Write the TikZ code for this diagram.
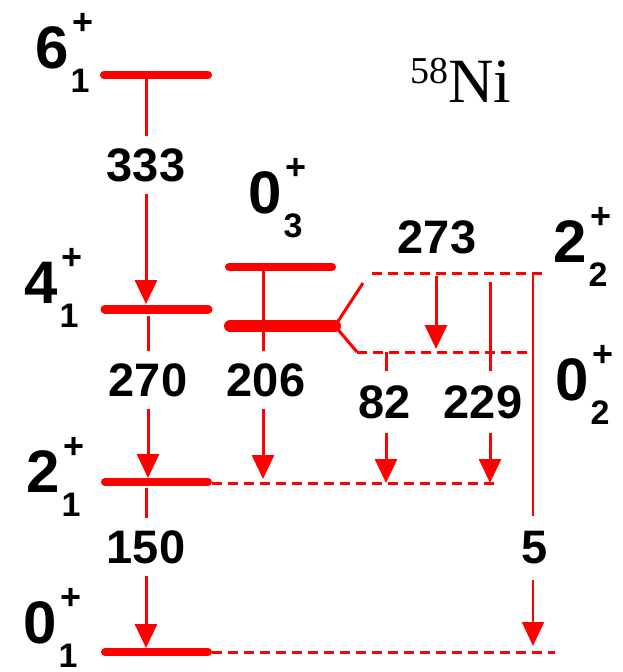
\documentclass[tikz,border=0pt]{standalone}
\usepackage{fontspec}
\setmainfont{Liberation Sans}
\newfontfamily\nuclidefont{Liberation Serif}
\usetikzlibrary{arrows.meta}

% spin-parity label: big digit, "+" above right, level index below right
\newcommand\spinlabel[2]{\fontsize{60}{60}\selectfont\bfseries #1%
  \rlap{\kern4pt\raisebox{34pt}{\fontsize{36}{36}\selectfont +}}%
  \rlap{\kern2pt\raisebox{-24pt}{\fontsize{34}{34}\selectfont #2}}}

\begin{document}
\begin{tikzpicture}[x=1pt,y=-1pt,
  level/.style={draw=red, line width=8pt, line cap=round},
  trans/.style={draw=red, line width=3pt},
  gam/.style={-{Triangle[width=22pt,length=24pt]}},
  dashlvl/.style={draw=red, line width=3pt, dash pattern=on 10pt off 6pt},
  elabel/.style={font=\fontsize{47}{47}\selectfont\bfseries, inner xsep=2pt, inner ysep=12pt},
  spin/.style={anchor=base west, inner sep=0pt}]
\useasboundingbox (0,0) rectangle (623,672);

% ---- level end points ----
\coordinate (L6a) at (104,75);   \coordinate (L6b) at (208,75);
\coordinate (L4a) at (105,309);  \coordinate (L4b) at (208,309);
\coordinate (L3a) at (229,267);  \coordinate (L3b) at (332,267);
\coordinate (Lfa) at (230,326);  \coordinate (Lfb) at (335,326);
\coordinate (L2a) at (105,482);  \coordinate (L2b) at (208,482);
\coordinate (L0a) at (105,652);  \coordinate (L0b) at (208,652);
\coordinate (Fu) at (363,283);   \coordinate (Fd) at (357,352);
\coordinate (D22a) at (372,273); \coordinate (D22b) at (545,273);
\coordinate (D02a) at (357,352); \coordinate (D02b) at (530,352);
\coordinate (D21b) at (495,483);
\coordinate (D01b) at (555,652);

% ---- levels ----
\draw[level] (L6a) -- (L6b);
\draw[level, line width=9pt] (L4a) -- (L4b);
\draw[level] (L3a) -- (L3b);
\draw[level, line width=12pt] (Lfa) -- (Lfb);
\draw[level] (L2a) -- (L2b);
\draw[level] (L0a) -- (L0b);
\draw[trans] (Fu) -- (Lfb) -- (Fd);
\draw[dashlvl] (D22a) -- (D22b);
\draw[dashlvl] (D02a) -- (D02b);
\draw[dashlvl] (L2b) ++(4,1) coordinate (D21a) (D21a) -- (D21b);
\draw[dashlvl] (L0b) ++(4,0) coordinate (D01a) (D01a) -- (D01b);

% ---- spin labels ----
\node[spin] (s61) at (35,68)   {\spinlabel{6}{1}};
\node[spin] (s41) at (24,303)  {\spinlabel{4}{1}};
\node[spin] (s21) at (26,492)  {\spinlabel{2}{1}};
\node[spin] (s01) at (23,643)  {\spinlabel{0}{1}};
\node[spin] (s03) at (248,213) {\spinlabel{0}{3}};
\node[spin] (s22) at (553,262) {\spinlabel{2}{2}};
\node[spin] (s02) at (555,400) {\spinlabel{0}{2}};

% ---- nucleus ----
\node[anchor=base west, inner sep=0pt, font=\nuclidefont\fontsize{63}{63}\selectfont] (nuc) at (410,102)
  {\raisebox{19pt}{\fontsize{38}{38}\selectfont 58}Ni};

% ---- transition start / end points ----
\coordinate (g333a) at (146,75);  \coordinate (g333b) at (146,304);
\coordinate (g270a) at (148,316); \coordinate (g270b) at (148,478);
\coordinate (g206a) at (263,267); \coordinate (g206b) at (263,479);
\coordinate (g82a)  at (386,352); \coordinate (g82b)  at (386,483);
\coordinate (g229a) at (490,282); \coordinate (g229b) at (490,483);
\coordinate (g273a) at (436,276); \coordinate (g273b) at (436,349);
\coordinate (g150a) at (146,488); \coordinate (g150b) at (146,648);
\coordinate (g5a)   at (533,273); \coordinate (g5b)   at (533,646);

% ---- energy labels ----
\node[elabel] (t333) at (146,165) {333};
\node[elabel] (t270) at (148,380) {270};
\node[elabel] (t206) at (266,380) {206};
\node[elabel, inner ysep=14pt] (t82)  at (385,402) {82};
\node[elabel, inner ysep=14pt] (t229) at (483,402) {229};
\node[elabel] (t273) at (437,237) {273};
\node[elabel] (t150) at (146,547) {150};
\node[elabel, inner ysep=15pt] (t5) at (535,548) {5};

% ---- gamma transitions ----
\draw[trans] (g333a) -- (g333a |- t333.north);
\draw[trans, gam] (g333a |- t333.south) -- (g333b);
\draw[trans] (g270a) -- (g270a |- t270.north);
\draw[trans, gam] (g270a |- t270.south) -- (g270b);
\draw[trans] (g206a) -- (g206a |- t206.north);
\draw[trans, gam] (g206a |- t206.south) -- (g206b);
\draw[trans] (g82a) -- (g82a |- t82.north);
\draw[trans, gam] (g82a |- t82.south) -- (g82b);
\draw[trans] (g229a) -- (g229a |- t229.north);
\draw[trans, gam] (g229a |- t229.south) -- (g229b);
\draw[trans, gam] (g273a) -- (g273b);
\draw[trans] (g150a) -- (g150a |- t150.north);
\draw[trans, gam] (g150a |- t150.south) -- (g150b);
\draw[trans, line width=2pt] (g5a) -- (g5a |- t5.north);
\draw[trans, line width=2pt, gam] (g5a |- t5.south) -- (g5b);
\end{tikzpicture}
\end{document}
